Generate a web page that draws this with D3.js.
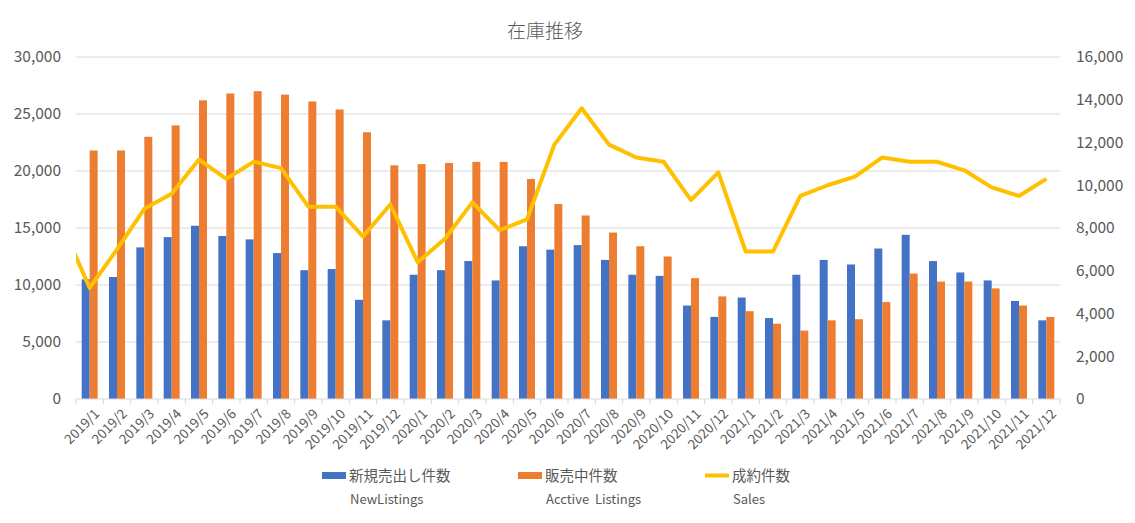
<!DOCTYPE html>
<html>
<head>
<meta charset="utf-8">
<script src="https://cdn.jsdelivr.net/npm/d3@7"></script>
<style>
  body { margin: 0; background: #fff; }
  text { font-family: "Noto Sans CJK JP", "Noto Sans", sans-serif; fill: #595959; }
</style>
</head>
<body>
<script>
// months on the x axis
const months = [
  "2019/1","2019/2","2019/3","2019/4","2019/5","2019/6","2019/7","2019/8","2019/9","2019/10","2019/11","2019/12",
  "2020/1","2020/2","2020/3","2020/4","2020/5","2020/6","2020/7","2020/8","2020/9","2020/10","2020/11","2020/12",
  "2021/1","2021/2","2021/3","2021/4","2021/5","2021/6","2021/7","2021/8","2021/9","2021/10","2021/11","2021/12"
];
// 新規売出し件数 (left axis)
const newListings = [
  10500,10700,13300,14200,15200,14300,14000,12800,11300,11400,8700,6900,
  10900,11300,12100,10400,13400,13100,13500,12200,10900,10800,8200,7200,
  8900,7100,10900,12200,11800,13200,14400,12100,11100,10400,8600,6900
];
// 販売中件数 (left axis)
const activeListings = [
  21800,21800,23000,24000,26200,26800,27000,26700,26100,25400,23400,20500,
  20600,20700,20800,20800,19300,17100,16100,14600,13400,12500,10600,9000,
  7700,6600,6000,6900,7000,8500,11000,10300,10300,9700,8200,7200
];
// 成約件数 (right axis)
const sales = [
  5200,7000,8900,9600,11200,10300,11100,10800,9000,9000,7600,9100,
  6400,7500,9200,7900,8400,11900,13600,11900,11300,11100,9300,10600,
  6900,6900,9500,10000,10400,11300,11100,11100,10700,9900,9500,10300
];
// 2018/12 value: only the part inside the plot shows
const salesLead = 8100;

const leftTicks = [0, 5000, 10000, 15000, 20000, 25000, 30000];
const rightTicks = [0, 2000, 4000, 6000, 8000, 10000, 12000, 14000, 16000];

const W = 1135, H = 523;
const m = {left: 76, right: 75, top: 57, bottom: 124};
const iw = W - m.left - m.right, ih = H - m.top - m.bottom;

const svg = d3.select("body").append("svg").attr("width", W).attr("height", H);

svg.append("text")
  .attr("x", 545).attr("y", 38)
  .attr("text-anchor", "middle")
  .attr("font-size", "19px")
  .attr("font-weight", 300)
  .text("在庫推移");

const g = svg.append("g").attr("transform", `translate(${m.left},${m.top})`);

const x = d3.scaleBand().domain(months).range([0, iw]);
const x1 = d3.scaleBand().domain(["new", "active"]).range([0, x.bandwidth()]).paddingOuter(0.71);
const yL = d3.scaleLinear().domain([0, 30000]).range([ih, 0]);
const yR = d3.scaleLinear().domain([0, 16000]).range([ih, 0]);

// gridlines
g.append("g").selectAll("line").data(leftTicks.slice(1)).join("line")
  .attr("x1", 0).attr("x2", iw)
  .attr("y1", d => yL(d)).attr("y2", d => yL(d))
  .attr("stroke", "#d9d9d9").attr("stroke-width", 1);

// left axis
const axL = g.append("g").call(d3.axisLeft(yL).tickValues(leftTicks).tickFormat(d3.format(",")).tickSize(0).tickPadding(15));
axL.select(".domain").remove();
axL.selectAll("text").attr("font-size", "15.5px").attr("fill", "#595959");

// right axis
const axR = g.append("g").attr("transform", `translate(${iw},0)`)
  .call(d3.axisRight(yR).tickValues(rightTicks).tickFormat(d3.format(",")).tickSize(0).tickPadding(16));
axR.select(".domain").remove();
axR.selectAll("text").attr("font-size", "15.5px").attr("fill", "#595959");

// bars
const rows = months.map((mo, i) => ({mo, new: newListings[i], active: activeListings[i]}));
const grp = g.append("g").selectAll("g").data(rows).join("g")
  .attr("transform", d => `translate(${x(d.mo)},0)`);
grp.append("rect")
  .attr("x", x1("new")).attr("width", x1.bandwidth())
  .attr("y", d => yL(d.new)).attr("height", d => ih - yL(d.new))
  .attr("fill", "#4472C4");
grp.append("rect")
  .attr("x", x1("active")).attr("width", x1.bandwidth())
  .attr("y", d => yL(d.active)).attr("height", d => ih - yL(d.active))
  .attr("fill", "#ED7D31");

// bottom axis
const axB = g.append("g").attr("transform", `translate(0,${ih})`);
axB.append("line").attr("x1", 0).attr("x2", iw).attr("stroke", "#d9d9d9");
axB.selectAll(".tk").data(d3.range(months.length + 1)).join("line")
  .attr("class", "tk")
  .attr("x1", i => i * x.step()).attr("x2", i => i * x.step())
  .attr("y1", 0).attr("y2", 5)
  .attr("stroke", "#d9d9d9");
axB.selectAll("text").data(months).join("text")
  .attr("transform", d => `translate(${x(d) + x.bandwidth() / 2 + 4},${9}) rotate(-45)`)
  .attr("text-anchor", "end")
  .attr("dy", "0.7em")
  .attr("font-size", "13.5px")
  .text(d => d);

// sales line, clipped to the plot area
g.append("clipPath").attr("id", "clip")
  .append("rect").attr("x", 0).attr("y", -5).attr("width", iw).attr("height", ih + 10);
const pts = [[-1, salesLead]].concat(sales.map((v, i) => [i, v]));
const line = d3.line()
  .x(d => (d[0] + 0.5) * x.step())
  .y(d => yR(d[1]));
g.append("path").datum(pts)
  .attr("clip-path", "url(#clip)")
  .attr("d", line)
  .attr("fill", "none")
  .attr("stroke", "#FFC000")
  .attr("stroke-width", 4)
  .attr("stroke-linejoin", "round");

// legend
const legend = [
  {name: "新規売出し件数", sub: "NewListings", color: "#4472C4", type: "rect", x: 322},
  {name: "販売中件数", sub: "Acctive  Listings", color: "#ED7D31", type: "rect", x: 518},
  {name: "成約件数", sub: "Sales", color: "#FFC000", type: "line", x: 705}
];
const lg = svg.append("g").selectAll("g").data(legend).join("g")
  .attr("transform", d => `translate(${d.x},0)`);
lg.filter(d => d.type === "rect").append("rect")
  .attr("x", 0).attr("y", 472).attr("width", 24).attr("height", 7)
  .attr("fill", d => d.color);
lg.filter(d => d.type === "line").append("line")
  .attr("x1", 0).attr("x2", 24).attr("y1", 475.5).attr("y2", 475.5)
  .attr("stroke", d => d.color).attr("stroke-width", 4);
lg.append("text")
  .attr("x", 27).attr("y", 481)
  .attr("font-size", "14.5px")
  .text(d => d.name);
lg.append("text")
  .attr("x", 28).attr("y", 504)
  .attr("font-size", "13px")
  .style("white-space", "pre")
  .text(d => d.sub);
</script>
</body>
</html>
